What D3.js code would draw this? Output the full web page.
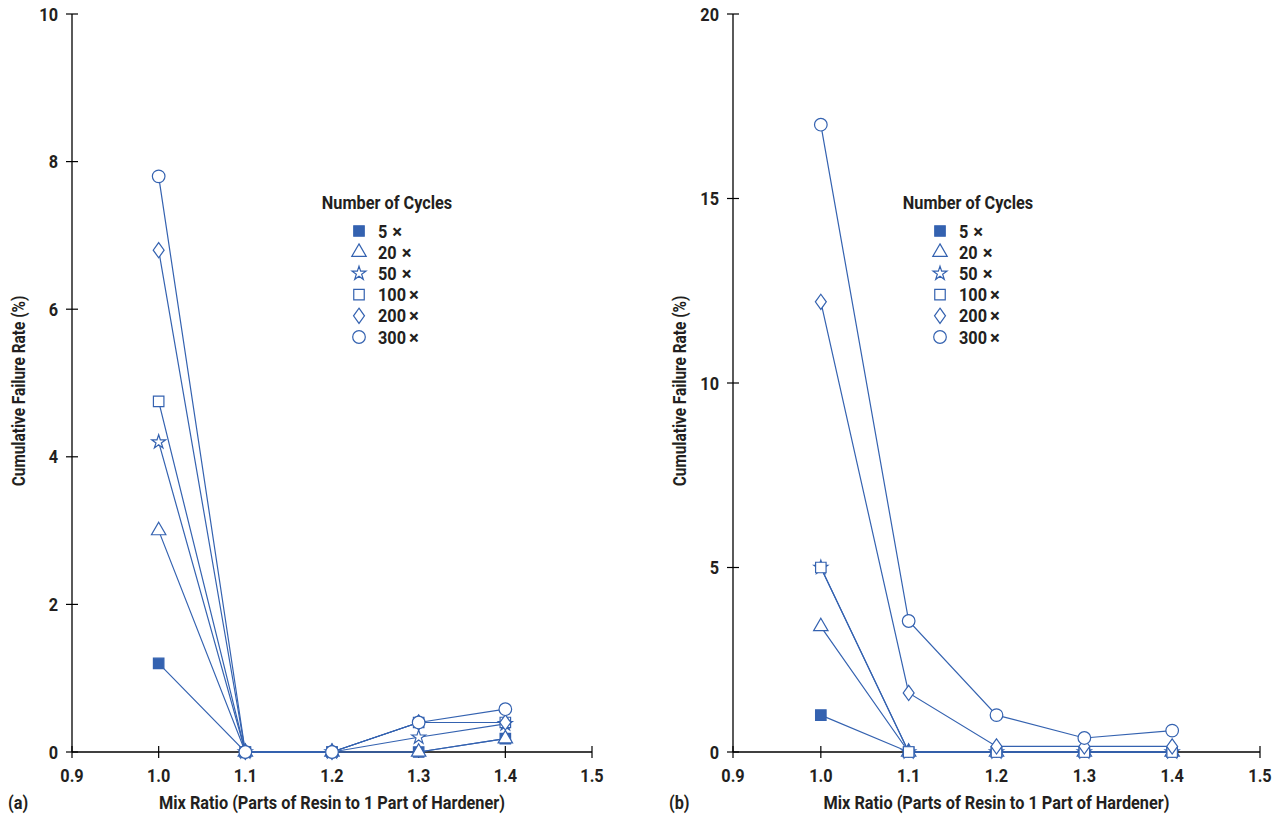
<!DOCTYPE html>
<html lang="en">
<head>
<meta charset="UTF-8">
<title>Cumulative Failure Rate vs Mix Ratio</title>
<style>
    body { margin: 0; background: #fff; }
    svg { display: block; }
    text {
        font-family: Roboto, "Liberation Sans", sans-serif;
        font-weight: bold;
        fill: #231f20;
    }
</style>
</head>
<body>
<svg width="1280" height="815"></svg>
<script src="https://d3js.org/d3.v7.min.js"></script>
<script>
// data
const ratios = [1.0, 1.1, 1.2, 1.3, 1.4];
const cycles = ["5", "20", "50", "100", "200", "300"];
const xTicks = [0.9, 1.0, 1.1, 1.2, 1.3, 1.4, 1.5];

// panel (a)
const a5 = [1.2, 0, 0, 0, 0.18];
const a20 = [3.0, 0, 0, 0, 0.18];
const a50 = [4.2, 0, 0, 0.2, 0.38];
const a100 = [4.75, 0, 0, 0.4, 0.4];
const a200 = [6.8, 0, 0, 0.4, 0.4];
const a300 = [7.8, 0, 0, 0.4, 0.58];
const aTicks = [0, 2, 4, 6, 8, 10];

// panel (b)
const b5 = [1.0, 0, 0, 0, 0];
const b20 = [3.4, 0, 0, 0, 0];
const b50 = [5.0, 0, 0, 0, 0];
const b100 = [5.0, 0, 0, 0, 0];
const b200 = [12.2, 1.6, 0.15, 0.15, 0.15];
const b300 = [17.0, 3.55, 1.0, 0.38, 0.58];
const bTicks = [0, 5, 10, 15, 20];

const blue = "#3462b0";
const fs = 18.5;

// wider diamond than d3's built-in one
const wideDiamond = {
    draw(ctx, size) {
        const h = Math.sqrt(size) * 0.8, w = h * 0.72;
        ctx.moveTo(0, -h); ctx.lineTo(w, 0); ctx.lineTo(0, h); ctx.lineTo(-w, 0); ctx.closePath();
    }
};
const symbols = [d3.symbolSquare, d3.symbolTriangle, d3.symbolStar, d3.symbolSquare, wideDiamond, d3.symbolCircle];
const symSize = [110, 90, 60, 110, 90, 125];

const svg = d3.select("svg");

function squeeze(sel) {
    sel.each(function () {
        const w = this.getComputedTextLength();
        d3.select(this).attr("textLength", w * 0.88).attr("lengthAdjust", "spacingAndGlyphs");
    });
}

function panel(opt) {
    const x = d3.scaleLinear().domain([0.9, 1.5]).range([opt.left, opt.right]);
    const y = d3.scaleLinear().domain([0, opt.ymax]).range([752, 14]);
    const g = svg.append("g");

    // axes
    g.append("line").attr("x1", opt.left).attr("x2", opt.right)
        .attr("y1", y(0)).attr("y2", y(0)).attr("stroke", "#000").attr("stroke-width", 1.3);
    g.append("line").attr("x1", opt.left).attr("x2", opt.left)
        .attr("y1", y(0)).attr("y2", y(opt.ymax)).attr("stroke", "#000").attr("stroke-width", 1.3);

    g.selectAll(".xt").data(xTicks).enter().append("line")
        .attr("x1", d => x(d)).attr("x2", d => x(d))
        .attr("y1", y(0) - 6).attr("y2", y(0) + 6)
        .attr("stroke", "#000").attr("stroke-width", 1.2);
    g.selectAll(".xl").data(xTicks).enter().append("text")
        .attr("x", d => x(d)).attr("y", y(0) + 30)
        .attr("text-anchor", "middle").attr("font-size", fs)
        .text(d => d.toFixed(1));

    g.selectAll(".yt").data(opt.ticks).enter().append("line")
        .attr("x1", opt.left - 6).attr("x2", opt.left + 6)
        .attr("y1", d => y(d)).attr("y2", d => y(d))
        .attr("stroke", "#000").attr("stroke-width", 1.2);
    g.selectAll(".yl").data(opt.ticks).enter().append("text")
        .attr("x", opt.left - 14).attr("y", d => y(d) + 6.5)
        .attr("text-anchor", "end").attr("font-size", fs)
        .text(d => d);

    // axis titles
    g.append("text")
        .attr("transform", `translate(${opt.left - 47},${y(opt.ymax / 2) + 8})rotate(-90)`)
        .attr("text-anchor", "middle").attr("font-size", 17.5)
        .text("Cumulative Failure Rate (%)");
    g.append("text")
        .attr("x", (opt.left + opt.right) / 2).attr("y", 809)
        .attr("text-anchor", "middle").attr("font-size", fs)
        .text("Mix Ratio (Parts of Resin to 1 Part of Hardener)");
    g.append("text")
        .attr("x", opt.left - 64).attr("y", 809)
        .attr("font-size", fs).text(opt.tag);

    // lines
    const line = d3.line().x((d, i) => x(ratios[i])).y(d => y(d));
    g.selectAll(".series").data(opt.series).enter().append("path")
        .attr("d", d => line(d))
        .attr("fill", "none").attr("stroke", blue).attr("stroke-width", 1.2);

    // markers
    opt.series.forEach((s, k) => {
        g.selectAll(null).data(s).enter().append("path")
            .attr("transform", (d, i) => `translate(${x(ratios[i])},${y(d)})`)
            .attr("d", d3.symbol().type(symbols[k]).size(symSize[k]))
            .attr("fill", k === 0 ? blue : "#fff")
            .attr("stroke", blue).attr("stroke-width", 1.2);
    });

    squeeze(g.selectAll("text"));

    // legend
    const lg = g.append("g").attr("transform", `translate(${opt.legendX},0)`);
    squeeze(lg.append("text").attr("x", 28).attr("y", 209)
        .attr("text-anchor", "middle").attr("font-size", fs)
        .text("Number of Cycles"));
    cycles.forEach((c, k) => {
        const yy = 231 + k * 21.2;
        lg.append("path")
            .attr("transform", `translate(0,${yy})`)
            .attr("d", d3.symbol().type(symbols[k]).size(symSize[k]))
            .attr("fill", k === 0 ? blue : "#fff")
            .attr("stroke", blue).attr("stroke-width", 1.2);
        const t = lg.append("text").attr("x", 19).attr("y", yy + 6.5)
            .attr("font-size", fs).text(c);
        squeeze(t);
        const w = +t.attr("textLength");
        // the multiplication sign, drawn as a separate label
        lg.append("text").attr("x", 19 + w + (c.length < 3 ? 5 : 3)).attr("y", yy + 6.5)
            .attr("font-size", fs).text("\u00d7");
    });
}

panel({
    left: 72, right: 592, ymax: 10, ticks: aTicks, tag: "(a)", legendX: 359,
    series: [a5, a20, a50, a100, a200, a300]
});
panel({
    left: 733, right: 1260, ymax: 20, ticks: bTicks, tag: "(b)", legendX: 940,
    series: [b5, b20, b50, b100, b200, b300]
});
</script>
</body>
</html>
